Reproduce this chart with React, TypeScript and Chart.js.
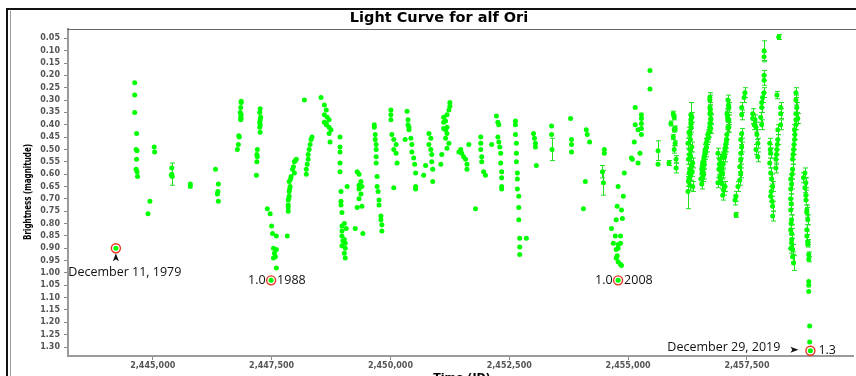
import React, { useEffect, useRef } from 'react';
import { Chart, registerables } from 'chart.js';

Chart.register(...registerables);

// ---------- axis ticks ----------
const X_TICKS = [2445000, 2447500, 2450000, 2452500, 2455000, 2457500];
const Y_TICKS = [0.05, 0.1, 0.15, 0.2, 0.25, 0.3, 0.35, 0.4, 0.45, 0.5, 0.55, 0.6, 0.65, 0.7, 0.75, 0.8, 0.85, 0.9, 0.95, 1.0, 1.05, 1.1, 1.15, 1.2, 1.25, 1.3];
const X_MIN = 2443217;
const X_MAX = 2459742;
const Y_MIN = 0.0123;
const Y_MAX = 1.3364;

// ---------- observations [JD, magnitude] ----------
const obs1980s: [number, number][] = [
  [2444224, 0.9],
  [2444620, 0.23], [2444620, 0.28], [2444620, 0.35], [2444660, 0.435], [2444650, 0.5], [2444670, 0.505], [2444660, 0.54], [2444650, 0.58], [2444670, 0.59], [2444680, 0.61],
  [2444940, 0.71], [2444900, 0.76], [2445030, 0.49], [2445040, 0.51],
  [2445400, 0.575], [2445390, 0.605], [2445410, 0.61],
  [2445790, 0.64], [2445790, 0.65],
  [2446320, 0.58], [2446380, 0.64], [2446370, 0.67], [2446360, 0.68], [2446380, 0.71],
  [2446780, 0.5], [2446800, 0.48], [2446810, 0.445], [2446820, 0.45], [2446860, 0.305], [2446860, 0.31], [2446850, 0.33], [2446840, 0.35], [2446860, 0.36], [2446850, 0.37], [2446860, 0.375], [2446850, 0.38],
  [2447180, 0.605], [2447260, 0.335], [2447250, 0.35], [2447270, 0.37], [2447260, 0.38], [2447250, 0.39], [2447260, 0.4], [2447250, 0.41], [2447260, 0.43], [2447200, 0.5], [2447190, 0.52], [2447200, 0.53], [2447190, 0.55],
  [2447410, 0.74], [2447470, 0.76], [2447500, 0.81], [2447520, 0.84], [2447600, 0.85], [2447540, 0.9], [2447600, 0.905], [2447560, 0.92], [2447580, 0.935], [2447540, 0.94], [2447600, 0.98], [2447490, 1.03],
  [2447830, 0.85], [2447850, 0.75], [2447850, 0.735], [2447850, 0.725], [2447850, 0.705], [2447860, 0.7], [2447870, 0.69], [2447870, 0.67], [2447880, 0.66], [2447890, 0.65], [2447870, 0.63], [2447900, 0.62], [2447910, 0.61], [2447980, 0.595], [2447940, 0.58], [2447960, 0.57], [2447980, 0.55], [2448000, 0.545], [2448020, 0.54],
];

const obs1990s: [number, number][] = [
  [2448190, 0.3], [2448230, 0.6], [2448230, 0.58], [2448250, 0.56], [2448270, 0.54], [2448270, 0.52], [2448290, 0.5], [2448310, 0.48], [2448330, 0.46], [2448350, 0.45],
  [2448540, 0.29], [2448610, 0.32], [2448650, 0.34], [2448610, 0.36], [2448670, 0.37], [2448710, 0.38], [2448650, 0.395], [2448610, 0.39], [2448650, 0.4], [2448710, 0.41], [2448750, 0.42], [2448710, 0.435], [2448730, 0.47],
  [2448940, 0.45], [2448940, 0.49], [2448940, 0.51], [2448940, 0.555], [2448940, 0.59], [2448960, 0.67], [2448960, 0.71], [2448960, 0.725], [2448980, 0.755], [2449030, 0.8], [2448980, 0.81], [2448980, 0.83], [2448980, 0.85], [2449000, 0.87], [2448980, 0.89], [2449030, 0.865], [2449050, 0.88], [2449050, 0.9], [2449030, 0.92], [2449050, 0.94], [2449070, 0.82], [2449090, 0.65], [2449260, 0.82], [2449420, 0.84],
  [2449300, 0.59], [2449340, 0.6], [2449380, 0.63], [2449340, 0.645], [2449400, 0.65], [2449340, 0.66], [2449380, 0.68], [2449340, 0.7], [2449300, 0.735], [2449400, 0.73],
  [2449660, 0.4], [2449660, 0.41], [2449680, 0.44], [2449680, 0.46], [2449700, 0.48], [2449700, 0.5], [2449700, 0.53], [2449700, 0.555], [2449720, 0.61], [2449720, 0.65], [2449740, 0.67], [2449760, 0.705], [2449760, 0.725], [2449800, 0.77], [2449800, 0.785], [2449820, 0.805], [2449820, 0.83],
  [2450010, 0.34], [2450010, 0.36], [2450010, 0.38], [2450030, 0.44], [2450070, 0.46], [2450120, 0.48], [2450070, 0.5], [2450120, 0.515], [2450140, 0.555], [2450070, 0.655],
  [2450350, 0.345], [2450370, 0.38], [2450370, 0.4], [2450390, 0.41], [2450390, 0.42], [2450430, 0.455], [2450310, 0.46], [2450450, 0.48], [2450450, 0.51], [2450490, 0.535], [2450510, 0.56], [2450530, 0.595], [2450530, 0.65], [2450530, 0.66],
  [2450810, 0.435], [2450850, 0.455], [2450810, 0.48], [2450850, 0.5], [2450870, 0.52], [2450870, 0.55], [2450890, 0.58], [2450890, 0.63], [2450740, 0.565], [2450700, 0.605],
  [2451250, 0.31], [2451250, 0.325], [2451230, 0.34], [2451190, 0.36], [2451120, 0.37], [2451160, 0.385], [2451120, 0.39], [2451190, 0.41], [2451120, 0.415], [2451160, 0.42], [2451190, 0.435], [2451160, 0.455], [2451230, 0.475], [2451190, 0.495], [2451080, 0.52], [2451060, 0.56],
  [2451440, 0.51], [2451480, 0.5], [2451500, 0.515], [2451540, 0.53], [2451580, 0.54], [2451610, 0.56], [2451650, 0.48], [2451610, 0.58],
];

const obs2000s: [number, number][] = [
  [2451790, 0.74], [2451900, 0.45], [2451900, 0.475], [2451900, 0.5], [2451920, 0.53], [2451920, 0.55], [2451960, 0.59], [2452000, 0.605], [2452130, 0.48],
  [2452230, 0.365], [2452260, 0.39], [2452280, 0.4], [2452260, 0.45], [2452280, 0.47], [2452300, 0.49], [2452320, 0.515], [2452320, 0.555], [2452340, 0.59], [2452340, 0.615], [2452340, 0.65], [2452340, 0.66],
  [2452630, 0.385], [2452630, 0.4], [2452630, 0.44], [2452650, 0.475], [2452650, 0.515], [2452650, 0.55], [2452670, 0.595], [2452670, 0.62], [2452670, 0.66], [2452700, 0.69], [2452700, 0.735], [2452700, 0.785], [2452720, 0.86], [2452720, 0.895], [2452720, 0.925], [2452860, 0.86],
  [2453010, 0.435], [2453030, 0.455], [2453050, 0.475], [2453050, 0.49], [2453070, 0.565],
  [2453390, 0.405], [2453390, 0.44],
  [2453790, 0.375], [2453810, 0.46], [2453810, 0.48], [2453810, 0.51],
  [2454120, 0.42], [2454140, 0.44], [2454190, 0.47], [2454100, 0.63], [2454060, 0.74],
  [2454500, 0.5], [2454500, 0.515],
  [2454920, 0.595], [2454790, 0.65], [2454900, 0.69], [2454860, 0.745], [2454880, 0.78], [2454750, 0.785], [2454770, 0.73], [2454650, 0.82], [2454730, 0.85], [2454840, 0.85], [2454790, 0.885], [2454790, 0.9], [2454690, 0.88], [2454840, 0.88], [2454750, 0.905], [2454770, 0.93], [2454750, 0.94], [2454790, 0.955], [2454840, 0.965], [2454860, 0.97], [2454790, 1.03],
  [2455150, 0.33], [2455280, 0.36], [2455280, 0.375], [2455150, 0.4], [2455280, 0.395], [2455280, 0.415], [2455210, 0.42], [2455280, 0.44], [2455130, 0.47], [2455250, 0.515], [2455070, 0.535], [2455090, 0.54], [2455210, 0.555],
  [2455460, 0.18], [2455460, 0.255], [2455630, 0.56],
];

const obs2019: [number, number][] = [
  [2458800, 1.035], [2458800, 1.05], [2458800, 1.075], [2458820, 1.215], [2458820, 1.28], [2458835, 1.315],
];

// ---------- observations with uncertainty [JD, magnitude, error] ----------
const obsWithErrors: [number, number, number][] = [
  [2445400, 0.6, 0.045], [2453400, 0.5, 0.045], [2454460, 0.59, 0.025], [2454480, 0.635, 0.05], [2455630, 0.505, 0.04],
  [2455860, 0.555, 0.01], [2455950, 0.355, 0.01], [2455970, 0.37, 0.01], [2455900, 0.395, 0.01], [2455990, 0.415, 0.01], [2455970, 0.42, 0.01], [2455950, 0.45, 0.01], [2455990, 0.475, 0.01], [2455970, 0.5, 0.015], [2456010, 0.54, 0.015], [2456010, 0.575, 0.02],
  [2456320, 0.36, 0.05], [2456320, 0.38, 0.02], [2456320, 0.395, 0.02], [2456320, 0.41, 0.02], [2456300, 0.44, 0.02], [2456310, 0.46, 0.02], [2456260, 0.475, 0.02], [2456300, 0.5, 0.02], [2456290, 0.52, 0.02], [2456320, 0.53, 0.02], [2456360, 0.555, 0.02], [2456330, 0.565, 0.02], [2456300, 0.58, 0.02], [2456290, 0.595, 0.02], [2456320, 0.605, 0.02], [2456280, 0.62, 0.03], [2456300, 0.645, 0.02], [2456360, 0.65, 0.02], [2456260, 0.67, 0.07],
  [2456340, 0.37, 0.02], [2456280, 0.43, 0.02], [2456340, 0.49, 0.02], [2456270, 0.54, 0.02], [2456350, 0.59, 0.02], [2456270, 0.63, 0.02],
  [2456720, 0.29, 0.02], [2456720, 0.3, 0.02], [2456720, 0.33, 0.02], [2456730, 0.34, 0.02], [2456720, 0.355, 0.02], [2456740, 0.375, 0.02], [2456740, 0.38, 0.02], [2456720, 0.395, 0.02], [2456720, 0.41, 0.02], [2456740, 0.415, 0.02], [2456700, 0.43, 0.02], [2456680, 0.44, 0.02], [2456660, 0.46, 0.02], [2456640, 0.475, 0.02], [2456620, 0.5, 0.02], [2456610, 0.52, 0.02], [2456600, 0.53, 0.02], [2456590, 0.545, 0.02], [2456570, 0.555, 0.02], [2456560, 0.57, 0.02], [2456550, 0.58, 0.02], [2456560, 0.595, 0.02], [2456570, 0.61, 0.02], [2456530, 0.62, 0.02], [2456550, 0.64, 0.02],
  [2456690, 0.45, 0.02], [2456650, 0.49, 0.02], [2456630, 0.51, 0.02], [2456600, 0.56, 0.02], [2456580, 0.575, 0.02], [2456590, 0.6, 0.02],
  [2457100, 0.3, 0.02], [2457110, 0.32, 0.02], [2457120, 0.33, 0.02], [2457080, 0.355, 0.02], [2457090, 0.365, 0.02], [2457100, 0.38, 0.02], [2457120, 0.38, 0.02], [2457100, 0.41, 0.02], [2457120, 0.41, 0.02], [2457080, 0.44, 0.02], [2457070, 0.46, 0.02], [2457060, 0.475, 0.02], [2457040, 0.5, 0.02], [2457020, 0.515, 0.02], [2456990, 0.53, 0.02], [2456930, 0.54, 0.02], [2456890, 0.515, 0.02], [2456960, 0.555, 0.02], [2456950, 0.57, 0.02], [2456970, 0.585, 0.02], [2456990, 0.595, 0.02], [2456930, 0.61, 0.02], [2456950, 0.62, 0.02], [2456890, 0.635, 0.02], [2457040, 0.65, 0.02], [2457010, 0.665, 0.02], [2456990, 0.685, 0.02],
  [2456920, 0.56, 0.02], [2456910, 0.58, 0.02], [2457000, 0.56, 0.02], [2457030, 0.53, 0.02], [2457050, 0.49, 0.02], [2456980, 0.64, 0.02],
  [2457460, 0.27, 0.02], [2457440, 0.29, 0.02], [2457390, 0.33, 0.02], [2457390, 0.36, 0.02], [2457390, 0.435, 0.02], [2457370, 0.46, 0.02], [2457390, 0.49, 0.02], [2457370, 0.515, 0.02], [2457370, 0.54, 0.02], [2457350, 0.57, 0.02], [2457370, 0.595, 0.02], [2457350, 0.625, 0.02], [2457310, 0.65, 0.02], [2457270, 0.69, 0.02], [2457250, 0.705, 0.02], [2457270, 0.765, 0.01],
  [2457620, 0.355, 0.02], [2457620, 0.375, 0.02], [2457650, 0.4, 0.02], [2457670, 0.38, 0.02], [2457690, 0.41, 0.02], [2457710, 0.44, 0.02], [2457730, 0.475, 0.02], [2457690, 0.5, 0.02], [2457730, 0.53, 0.02],
  [2457860, 0.1, 0.04], [2457860, 0.125, 0.02], [2457860, 0.2, 0.02], [2457860, 0.22, 0.02], [2457860, 0.27, 0.02], [2457830, 0.29, 0.02], [2457810, 0.31, 0.02], [2457810, 0.33, 0.02], [2457790, 0.37, 0.02], [2457810, 0.4, 0.02],
  [2458170, 0.045, 0.01], [2458130, 0.28, 0.015], [2458210, 0.33, 0.02], [2458210, 0.355, 0.02], [2458210, 0.4, 0.02], [2458150, 0.42, 0.02], [2458150, 0.46, 0.02], [2458130, 0.5, 0.02], [2458110, 0.54, 0.02], [2458110, 0.575, 0.02], [2457980, 0.475, 0.02], [2458000, 0.515, 0.02], [2457980, 0.555, 0.02], [2458000, 0.595, 0.02], [2458040, 0.65, 0.02], [2458000, 0.69, 0.02], [2458040, 0.73, 0.02], [2458040, 0.77, 0.02],
  [2458020, 0.62, 0.02], [2458010, 0.67, 0.02], [2458030, 0.71, 0.02], [2457990, 0.5, 0.02], [2458140, 0.48, 0.02], [2458120, 0.52, 0.02],
  [2458530, 0.27, 0.02], [2458530, 0.3, 0.02], [2458550, 0.33, 0.02], [2458530, 0.355, 0.02], [2458570, 0.375, 0.02], [2458530, 0.38, 0.02], [2458530, 0.4, 0.02], [2458500, 0.42, 0.02], [2458500, 0.46, 0.02], [2458480, 0.5, 0.02], [2458460, 0.54, 0.02], [2458460, 0.58, 0.02], [2458420, 0.62, 0.02], [2458420, 0.66, 0.02], [2458420, 0.7, 0.02], [2458420, 0.745, 0.02], [2458440, 0.785, 0.02], [2458420, 0.825, 0.02], [2458440, 0.865, 0.02], [2458440, 0.88, 0.02], [2458420, 0.9, 0.02], [2458460, 0.905, 0.02], [2458460, 0.935, 0.02], [2458480, 0.96, 0.03],
  [2458510, 0.44, 0.02], [2458490, 0.48, 0.02], [2458470, 0.52, 0.02], [2458450, 0.6, 0.02], [2458440, 0.64, 0.02], [2458430, 0.72, 0.02], [2458430, 0.8, 0.02], [2458440, 0.84, 0.02],
  [2458720, 0.595, 0.02], [2458690, 0.615, 0.02], [2458740, 0.635, 0.02], [2458720, 0.655, 0.02], [2458740, 0.685, 0.02], [2458740, 0.705, 0.02], [2458760, 0.745, 0.02], [2458760, 0.755, 0.02], [2458780, 0.785, 0.02], [2458760, 0.825, 0.02], [2458760, 0.85, 0.02], [2458780, 0.875, 0.01], [2458780, 0.885, 0.01], [2458800, 0.925, 0.01], [2458800, 0.945, 0.01],
];

// ---------- annotations ----------
const annJD = [2444224, 2447490, 2454790, 2458835];
const annMag = [0.9, 1.03, 1.03, 1.315];
const annLeft = ['', '1.0', '1.0', 'December 29, 2019'];
const annRight = ['', '1988', '2008', '1.3'];
const annBelow = ['December 11, 1979', '', '', ''];

const TITLE = 'Light Curve for alf Ori';
const X_TITLE = 'Time (JD)';
const Y_TITLE = 'Brightness (magnitude)';

const GREEN = '#00ff00';

const decorPlugin = {
  id: 'decor',
  beforeDraw(chart: any) {
    const ctx = chart.ctx;
    ctx.save();
    ctx.fillStyle = '#ffffff';
    ctx.fillRect(0, 0, chart.width, chart.height);
    ctx.restore();
  },
  beforeDatasetsDraw(chart: any) {
    const ctx = chart.ctx;
    const xs = chart.scales.x;
    const ys = chart.scales.y;
    const a = chart.chartArea;
    ctx.save();
    ctx.beginPath();
    ctx.rect(a.left, a.top, a.right - a.left, a.bottom - a.top);
    ctx.clip();
    ctx.strokeStyle = '#1fe01f';
    ctx.lineWidth = 1;
    for (const [jd, m, e] of obsWithErrors) {
      const px = Math.round(xs.getPixelForValue(jd)) + 0.5;
      const y1 = ys.getPixelForValue(m - e);
      const y2 = ys.getPixelForValue(m + e);
      ctx.beginPath();
      ctx.moveTo(px, y1);
      ctx.lineTo(px, y2);
      ctx.moveTo(px - 2.5, y1);
      ctx.lineTo(px + 2.5, y1);
      ctx.moveTo(px - 2.5, y2);
      ctx.lineTo(px + 2.5, y2);
      ctx.stroke();
    }
    ctx.restore();
  },
  afterDraw(chart: any) {
    const ctx = chart.ctx;
    const xs = chart.scales.x;
    const ys = chart.scales.y;
    const a = chart.chartArea;
    const W = chart.width;
    const H = chart.height;
    ctx.save();

    // outer frame
    ctx.fillStyle = '#111';
    ctx.fillRect(6, 8, W - 6, 2);
    ctx.fillRect(6, 8, 2, H - 8);
    ctx.fillStyle = '#9a9a9a';
    ctx.fillRect(10, 11, 1, H - 11);

    // plot top border
    ctx.fillStyle = '#666';
    ctx.fillRect(a.left - 1, a.top, W - a.left + 1, 1);

    // title
    ctx.fillStyle = '#000';
    ctx.font = 'bold 14.5px "DejaVu Sans"';
    ctx.textAlign = 'center';
    ctx.textBaseline = 'middle';
    ctx.fillText(TITLE, 439, 18);

    // x title (cut off at bottom)
    ctx.font = 'bold 11px "DejaVu Sans"';
    ctx.fillText(X_TITLE, (a.left + W) / 2, H + 2);

    // y title
    ctx.save();
    ctx.translate(28, 192);
    ctx.rotate(-Math.PI / 2);
    ctx.font = 'bold 11px "DejaVu Sans"';
    ctx.fillText(Y_TITLE, 0, 0, 96);
    ctx.restore();

    // annotations
    for (let i = 0; i < annJD.length; i++) {
      const px = xs.getPixelForValue(annJD[i]);
      const py = ys.getPixelForValue(annMag[i]);
      ctx.strokeStyle = '#e8331f';
      ctx.lineWidth = 1.4;
      ctx.beginPath();
      ctx.arc(px, py, 4.5, 0, Math.PI * 2);
      ctx.stroke();

      ctx.fillStyle = '#111';
      ctx.font = '12.5px "Open Sans"';
      ctx.textBaseline = 'middle';
      if (annBelow[i]) {
        ctx.beginPath();
        ctx.moveTo(px, py + 5);
        ctx.lineTo(px - 3, py + 13);
        ctx.lineTo(px, py + 11);
        ctx.lineTo(px + 3, py + 13);
        ctx.closePath();
        ctx.fill();
        ctx.textAlign = 'center';
        ctx.fillText(annBelow[i], px + 9, py + 24);
      }
      if (annLeft[i]) {
        if (annLeft[i].length > 6) {
          ctx.textAlign = 'right';
          ctx.fillText(annLeft[i], px - 30, py - 3);
          ctx.beginPath();
          ctx.moveTo(px - 12, py - 1);
          ctx.lineTo(px - 20, py - 4);
          ctx.lineTo(px - 18, py - 1);
          ctx.lineTo(px - 20, py + 2);
          ctx.closePath();
          ctx.fill();
        } else {
          ctx.textAlign = 'right';
          ctx.fillText(annLeft[i], px - 5.5, py);
        }
      }
      if (annRight[i]) {
        ctx.textAlign = 'left';
        ctx.fillText(annRight[i], px + (annRight[i].length > 3 ? 6 : 8), py);
      }
    }
    ctx.restore();
  },
};

export default function App() {
  const ref = useRef<HTMLCanvasElement | null>(null);
  useEffect(() => {
    document.body.style.margin = '0';
    const canvas = ref.current;
    if (!canvas) return;
    const toPts = (arr: number[][]) => arr.map((p) => ({ x: p[0], y: p[1] }));
    const tickFont = { family: '"DejaVu Sans"', size: 8, weight: 'bold' as const };
    const chart = new Chart(canvas, {
      type: 'scatter',
      data: {
        datasets: [
          {
            data: [
              ...toPts(obs1980s),
              ...toPts(obs1990s),
              ...toPts(obs2000s),
              ...toPts(obsWithErrors),
              ...toPts(obs2019),
            ],
            backgroundColor: GREEN,
            borderWidth: 0,
            pointRadius: 2.5,
            pointHoverRadius: 2.5,
          },
        ],
      },
      options: {
        animation: false,
        responsive: false,
        events: [],
        layout: { padding: { left: 0, right: 0, top: 29, bottom: 0 } },
        plugins: { legend: { display: false }, tooltip: { enabled: false }, title: { display: false } },
        scales: {
          x: {
            type: 'linear',
            min: X_MIN,
            max: X_MAX,
            afterBuildTicks: (s: any) => {
              s.ticks = X_TICKS.map((v) => ({ value: v }));
            },
            afterFit: (s: any) => {
              s.height = 20;
            },
            ticks: {
              font: tickFont,
              color: '#555',
              padding: 1,
              maxRotation: 0,
              autoSkip: false,
              callback: (v: any) => Number(v).toLocaleString('en-US'),
            },
            grid: { drawOnChartArea: false, drawTicks: true, tickLength: 4, color: '#888' },
            border: { color: '#9a9a9a', width: 2 },
          },
          y: {
            type: 'linear',
            reverse: true,
            min: Y_MIN,
            max: Y_MAX,
            afterBuildTicks: (s: any) => {
              s.ticks = Y_TICKS.map((v) => ({ value: v }));
            },
            afterFit: (s: any) => {
              s.width = 68;
            },
            ticks: {
              font: tickFont,
              color: '#555',
              padding: 4,
              autoSkip: false,
              callback: (v: any) => Number(v).toFixed(2),
            },
            grid: { drawOnChartArea: false, drawTicks: true, tickLength: 4, color: '#888' },
            border: { color: '#9a9a9a', width: 2 },
          },
        },
      },
      plugins: [decorPlugin],
    });
    return () => chart.destroy();
  }, []);
  return (
    <div style={{ width: 856, height: 376, position: 'relative', overflow: 'hidden' }}>
      <canvas ref={ref} width={856} height={376} style={{ display: 'block' }} />
    </div>
  );
}
